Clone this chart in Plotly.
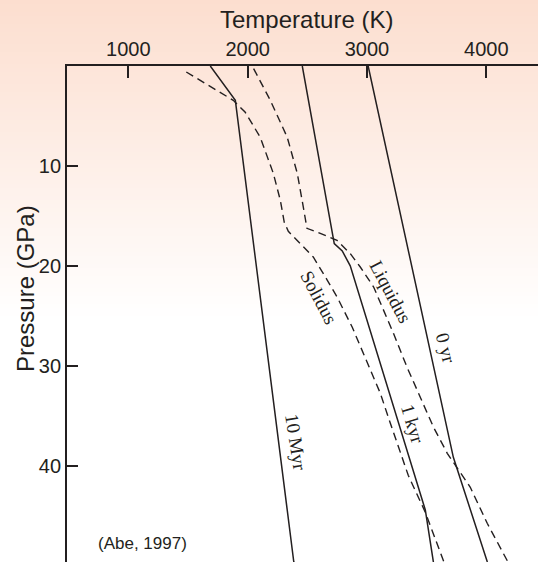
import plotly.graph_objects as go

# ---- data ----
t_0yr = [3010, 3724, 4009, 4012]
p_0yr = [0.0, 39.13, 49.6, 49.7]

t_1kyr = [2458, 2726, 2793, 2860, 3489, 3556, 3558]
p_1kyr = [0.0, 17.76, 18.5, 19.98, 44.4, 49.6, 49.7]

t_10myr = [1687, 1897, 2387, 2390]
p_10myr = [0.0, 3.43, 49.6, 49.7]

t_solidus = [1486, 1687, 1880, 1980, 2106, 2215, 2274, 2307, 2341, 2441, 2550,
             2668, 2751, 2877, 3003, 3112, 3196, 3346, 3489, 3615, 3648]
p_solidus = [0.6, 2.03, 3.43, 4.63, 7.13, 10.73, 13.43, 15.63, 16.53, 17.76, 19.1,
             21.43, 23.13, 26.13, 29.73, 32.73, 35.73, 40.93, 44.63, 48.73, 49.7]

t_liquidus = [2050, 2190, 2332, 2416, 2467, 2497, 2581, 2749, 2860, 2944, 3056,
              3139, 3223, 3335, 3447, 3558, 3673, 3866, 4008, 4176, 4186]
p_liquidus = [0.26, 3.43, 7.13, 10.73, 14.13, 16.23, 16.6, 17.43, 18.76, 20.1, 22.1,
              24.43, 26.76, 30.1, 33.1, 36.13, 38.73, 42.13, 45.73, 49.43, 49.7]

x_ticks = [1000, 2000, 3000, 4000]
y_ticks = [10, 20, 30, 40]

labels = ["Solidus", "Liquidus", "0 yr", "1 kyr", "10 Myr"]
label_t = [2600, 3204, 3665, 3388, 2408]
label_p = [23.1, 22.6, 28.2, 35.8, 37.6]
label_angle = [62, 62, 75, 73, 81]

INK = "#231f20"
SANS = "Liberation Sans, Arial, sans-serif"
SERIF = "Liberation Serif, Times New Roman, serif"

W, H = 538, 562
ML, MT = 67, 66
PW, PH = W - ML, H - MT

fig = go.Figure()

solid = dict(color=INK, width=1.5)
dashed = dict(color=INK, width=1.4, dash="8px,5px")

for t, p in [(t_0yr, p_0yr), (t_1kyr, p_1kyr), (t_10myr, p_10myr)]:
    fig.add_trace(go.Scatter(x=t, y=p, mode="lines", line=solid,
                             hoverinfo="skip", showlegend=False))
for t, p in [(t_solidus, p_solidus), (t_liquidus, p_liquidus)]:
    fig.add_trace(go.Scatter(x=t, y=p, mode="lines", line=dashed,
                             hoverinfo="skip", showlegend=False))

# background gradient (peach at top fading to white)
shapes = []
top_rgb = (252, 222, 207)
fade_px = 320
step = 4
for y0 in range(0, fade_px, step):
    f = 1 - (y0 + step / 2) / fade_px
    r = round(255 - (255 - top_rgb[0]) * f)
    g = round(255 - (255 - top_rgb[1]) * f)
    b = round(255 - (255 - top_rgb[2]) * f)
    shapes.append(dict(type="rect", xref="paper", yref="paper", layer="below",
                       x0=-ML / PW - 0.01, x1=1.01,
                       y0=(H - (y0 + step + 0.6)) / PH, y1=(H - y0) / PH,
                       line=dict(width=0), fillcolor=f"rgb({r},{g},{b})"))

annotations = []
for txt, t, p, a in zip(labels, label_t, label_p, label_angle):
    annotations.append(dict(x=t, y=p, xref="x", yref="y", text=txt, textangle=a,
                            showarrow=False, font=dict(family=SERIF, size=19, color=INK)))
annotations.append(dict(x=1117, y=47.7, xref="x", yref="y", text="(Abe, 1997)",
                        showarrow=False, font=dict(family=SANS, size=17, color=INK)))
annotations.append(dict(x=(306 - ML) / PW, y=(H - 20) / PH, xref="paper", yref="paper",
                        text="Temperature (K)", showarrow=False, xanchor="center", yanchor="middle",
                        font=dict(family=SANS, size=24, color=INK)))
annotations.append(dict(x=(25 - ML) / PW, y=(H - 289) / PH, xref="paper", yref="paper",
                        text="Pressure (GPa)", showarrow=False, textangle=-90,
                        xanchor="center", yanchor="middle",
                        font=dict(family=SANS, size=24, color=INK)))

K_PER_PX = 1000 / 119.33
x_left = 1000 - (128.3 - ML) * K_PER_PX
x_right = x_left + PW * K_PER_PX

fig.update_layout(
    width=W, height=H,
    margin=dict(l=ML, r=0, t=MT, b=0, pad=0),
    paper_bgcolor="white", plot_bgcolor="rgba(0,0,0,0)",
    shapes=shapes, annotations=annotations,
    xaxis=dict(side="top", range=[x_left, x_right], tickvals=x_ticks,
               ticktext=[str(v) for v in x_ticks],
               showline=True, linecolor=INK, linewidth=1.5, mirror=False,
               ticks="inside", ticklen=12, tickwidth=1.5, tickcolor=INK,
               showgrid=False, zeroline=False,
               tickfont=dict(family=SANS, size=20, color=INK)),
    yaxis=dict(range=[49.6, 0], tickvals=y_ticks, ticktext=[str(v) for v in y_ticks],
               showline=True, linecolor=INK, linewidth=1.8, mirror=False,
               ticks="inside", ticklen=11, tickwidth=1.5, tickcolor=INK,
               showgrid=False, zeroline=False,
               tickfont=dict(family=SANS, size=20, color=INK)),
)

fig.write_html("out.html")
